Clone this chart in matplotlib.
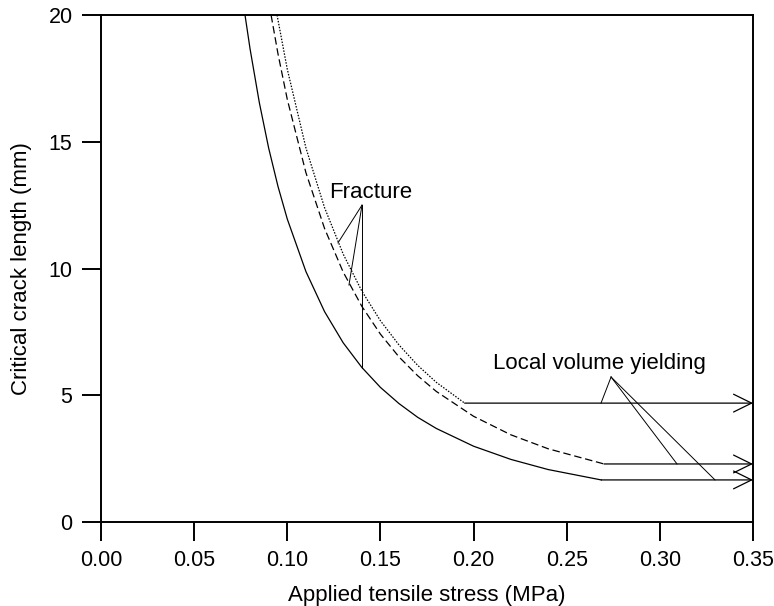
import numpy as np
import matplotlib
matplotlib.use("Agg")
import matplotlib.pyplot as plt

plt.rcParams['font.family'] = ['Liberation Sans', 'DejaVu Sans']

# critical crack length (mm) vs applied tensile stress (MPa)
solid_x = [0.0773, 0.080, 0.085, 0.090, 0.095, 0.100, 0.110, 0.120, 0.130, 0.140,
           0.150, 0.160, 0.170, 0.180, 0.200, 0.220, 0.240, 0.2685]
solid_y = [20.0, 18.67, 16.54, 14.75, 13.24, 11.95, 9.88, 8.30, 7.07, 6.10,
           5.31, 4.67, 4.13, 3.69, 2.99, 2.47, 2.07, 1.66]

dashed_x = [0.0913, 0.095, 0.100, 0.110, 0.120, 0.130, 0.140, 0.150, 0.160,
            0.170, 0.180, 0.200, 0.220, 0.240, 0.2700]
dashed_y = [20.0, 18.47, 16.67, 13.78, 11.58, 9.86, 8.51, 7.41, 6.51,
            5.77, 5.15, 4.17, 3.44, 2.89, 2.29]

dotted_x = [0.0945, 0.100, 0.110, 0.120, 0.130, 0.140, 0.150, 0.160, 0.170,
            0.180, 0.1952]
dotted_y = [20.0, 17.86, 14.76, 12.40, 10.57, 9.11, 7.94, 6.98, 6.18,
            5.51, 4.69]

x_end = 0.35

fig = plt.figure(figsize=(7.74, 6.06), dpi=100)
ax = fig.add_axes([0.1305, 0.1386, 0.8424, 0.8366])

lw = 0.9
ax.plot(solid_x, solid_y, color='black', lw=lw, linestyle='-')
ax.plot(dashed_x, dashed_y, color='black', lw=lw, linestyle=(0, (6, 3)))
ax.plot(dotted_x, dotted_y, color='black', lw=lw, linestyle=(0, (1.2, 1.2)))

# plateaus (local volume yielding) with open arrow heads
for xs, ys in [(solid_x, solid_y), (dashed_x, dashed_y), (dotted_x, dotted_y)]:
    ax.annotate('', xy=(x_end, ys[-1]), xytext=(xs[-1], ys[-1]),
                arrowprops=dict(arrowstyle='->,head_length=0.65,head_width=0.32',
                                color='black', lw=lw, mutation_scale=20,
                                shrinkA=0, shrinkB=0))

# "Fracture" leaders
ax.text(0.1449, 12.98, 'Fracture', ha='center', va='center', fontsize=16)
apex = (0.1401, 12.50)
for px, py in [(0.1272, 11.01), (0.1331, 9.35), (0.1401, 6.09)]:
    ax.plot([apex[0], px], [apex[1], py], color='black', lw=0.7)

# "Local volume yielding" leaders
ax.text(0.2673, 6.27, 'Local volume yielding', ha='center', va='center', fontsize=16)
apex2 = (0.2738, 5.72)
for px, py in [(0.2684, 4.69), (0.3092, 2.29), (0.3296, 1.66)]:
    ax.plot([apex2[0], px], [apex2[1], py], color='black', lw=0.7)

ax.set_xlim(0, 0.35)
ax.set_ylim(0, 20)
ax.set_xticks(np.arange(0, 0.351, 0.05))
ax.set_xticklabels(['%.2f' % v for v in np.arange(0, 0.351, 0.05)])
ax.set_yticks([0, 5, 10, 15, 20])

for s in ax.spines.values():
    s.set_linewidth(1.4)
ax.tick_params(direction='out', length=13.5, width=1.4, labelsize=15.5)
ax.tick_params(axis='x', pad=7)
ax.tick_params(axis='y', pad=7)

ax.set_xlabel('Applied tensile stress (MPa)', fontsize=16, labelpad=10)
ax.set_ylabel('Critical crack length (mm)', fontsize=16, labelpad=12)

fig.savefig('out.png', dpi=100)
